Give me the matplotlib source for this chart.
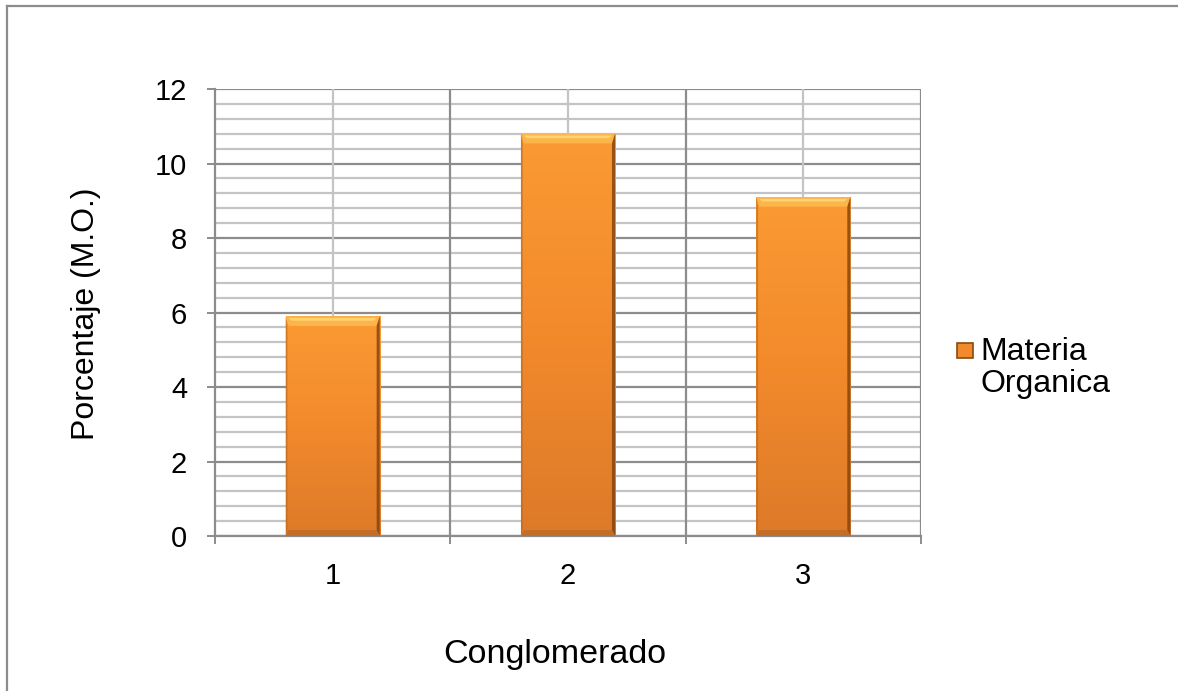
import numpy as np
import matplotlib.pyplot as plt
from matplotlib.patches import Rectangle, Polygon
from matplotlib.colors import LinearSegmentedColormap
from matplotlib.ticker import MultipleLocator, FixedLocator, NullFormatter

plt.rcParams['font.family'] = ['Liberation Sans', 'DejaVu Sans']

# data
categories = ['1', '2', '3']
materia_organica = [5.9, 10.8, 9.1]
series_name = 'Materia\nOrganica'

fig = plt.figure(figsize=(11.78, 6.91), dpi=100)
ax = fig.add_axes([0.1825, 0.2243, 0.5993, 0.6469])

x = np.arange(1, len(categories) + 1)
width = 0.4

# orange gradient used to fill the bars
grad = LinearSegmentedColormap.from_list('org', ['#DD7A29', '#F28A2C', '#FB9A33'])

bars = ax.bar(x, materia_organica, width=width, color='none', edgecolor='none', zorder=3)
for rect, h in zip(bars, materia_organica):
    x0 = rect.get_x()
    x1 = x0 + rect.get_width()
    g = np.linspace(0, 1, 256).reshape(-1, 1)
    im = ax.imshow(g, cmap=grad, origin='lower', aspect='auto',
                   extent=[x0, x1, 0, h], zorder=3)
    im.set_clip_path(rect)
    # bevel: light top, dark sides and bottom
    bw = 0.013
    bh = 0.26
    ax.add_patch(Polygon([[x0, h], [x1, h], [x1 - bw, h - bh], [x0 + bw, h - bh]],
                         closed=True, color='#FDB94E', alpha=0.9, lw=0, zorder=4))
    ax.add_patch(Polygon([[x0 + bw, h - 0.05], [x1 - bw, h - 0.05],
                          [x1 - 2 * bw, h - 0.12], [x0 + 2 * bw, h - 0.12]],
                         closed=True, color='#FEDC7A', alpha=0.8, lw=0, zorder=4))
    ax.add_patch(Polygon([[x1, h], [x1, 0], [x1 - bw, 0.16], [x1 - bw, h - bh]],
                         closed=True, color='#7E4210', alpha=0.8, lw=0, zorder=4))
    ax.add_patch(Polygon([[x0, h], [x0, 0], [x0 + bw * 0.6, 0.16], [x0 + bw * 0.6, h - bh]],
                         closed=True, color='#B8661E', alpha=0.6, lw=0, zorder=4))
    ax.add_patch(Polygon([[x0, 0], [x1, 0], [x1 - bw, 0.16], [x0 + bw, 0.16]],
                         closed=True, color='#B86A28', alpha=0.7, lw=0, zorder=4))

ax.set_xlim(0.5, 3.5)
ax.set_ylim(0, 12)

# y gridlines: major every 2, minor every 0.4
ax.yaxis.set_major_locator(MultipleLocator(2))
ax.yaxis.set_minor_locator(MultipleLocator(0.4))
ax.grid(axis='y', which='major', color='#8C8C8C', lw=1.6, zorder=1)
ax.grid(axis='y', which='minor', color='#C4C4C4', lw=1.6, zorder=1)

# x: category labels at centres, ticks/gridlines at boundaries
ax.set_xticks(x)
ax.set_xticklabels(categories)
ax.tick_params(axis='x', which='major', length=0, pad=19)
ax.xaxis.set_minor_locator(FixedLocator([0.5, 1.5, 2.5, 3.5]))
ax.xaxis.set_minor_formatter(NullFormatter())
ax.tick_params(axis='x', which='minor', length=6, width=1.4, color='#8C8C8C', direction='out')
for xb in [1.5, 2.5, 3.5]:
    ax.axvline(xb, color='#8C8C8C', lw=1.6, zorder=1)
for xc in x:
    ax.axvline(xc, color='#C4C4C4', lw=1.6, zorder=1)

ax.tick_params(axis='y', which='major', length=6, width=1.4, color='#8C8C8C',
               direction='out', pad=14)
ax.tick_params(axis='y', which='minor', length=0)
ax.tick_params(labelsize=21)

for side in ['top', 'right']:
    ax.spines[side].set_visible(False)
for side in ['left', 'bottom']:
    ax.spines[side].set_color('#8C8C8C')
    ax.spines[side].set_linewidth(1.6)
ax.set_axisbelow(True)

ax.set_xlabel('Conglomerado', fontsize=24.5)
ax.xaxis.set_label_coords(0.481, -0.284)
ax.xaxis.label.set_va('baseline')
ax.set_ylabel('Porcentaje (M.O.)', fontsize=23)
ax.yaxis.set_label_coords(-0.183, 0.497)
ax.yaxis.label.set_va('center')

# legend drawn in figure coordinates
fig.patches.append(Rectangle((957 / 1178, 1 - 358 / 691), 16 / 1178, 15 / 691,
                             transform=fig.transFigure, facecolor='#F08A2C',
                             edgecolor='#8A4A12', lw=1.2))
fig.text(980 / 1178, 1 - 337 / 691, series_name, fontsize=23, va='top',
         ha='left', linespacing=1.1, transform=fig.transFigure)

# outer frame (top and left edge)
fig.add_artist(plt.Line2D([7 / 1178, 1], [1 - 6 / 691, 1 - 6 / 691],
                          transform=fig.transFigure, color='#8C8C8C', lw=1.6))
fig.add_artist(plt.Line2D([7 / 1178, 7 / 1178], [0, 1 - 6 / 691],
                          transform=fig.transFigure, color='#8C8C8C', lw=1.6))

fig.savefig('out.png', dpi=100)
